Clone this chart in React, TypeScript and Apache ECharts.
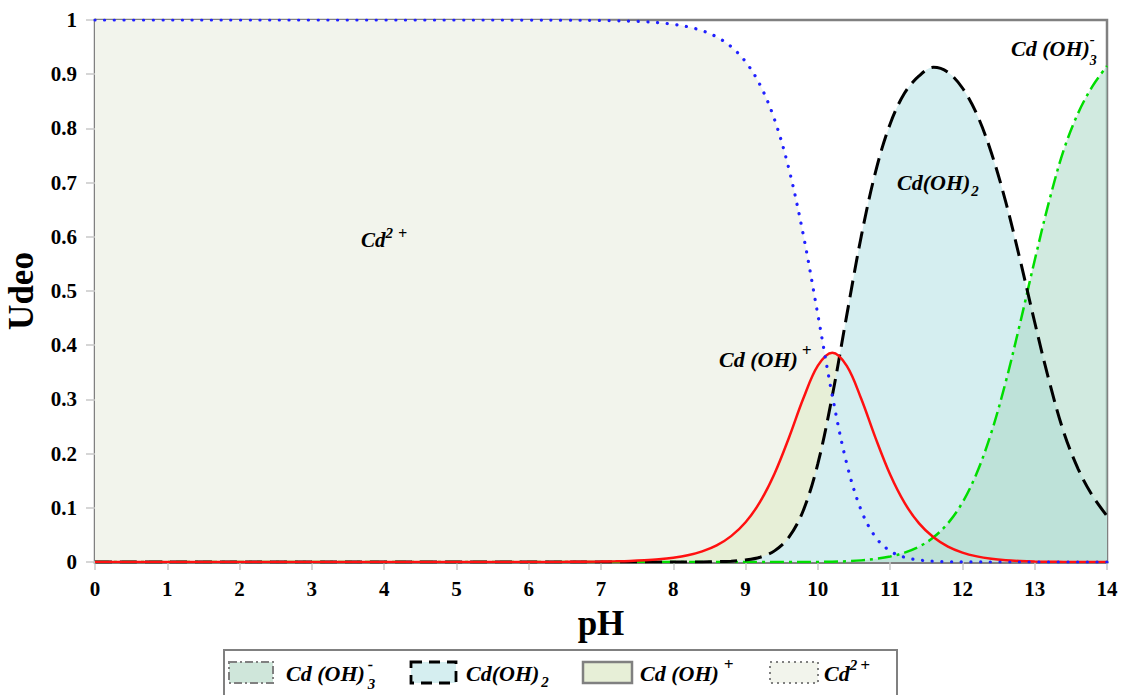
import React, { useEffect, useRef } from 'react';
import * as echarts from 'echarts';

const FONT = '"Liberation Serif", "Times New Roman", serif';

// pH values (x)
const PH = [0, 1, 2, 3, 4, 5, 6, 6.5, 7, 7.2, 7.4, 7.6, 7.8, 8, 8.2, 8.4, 8.6, 8.8, 9, 9.2, 9.4, 9.6, 9.8, 10, 10.2, 10.4, 10.6, 10.8, 11, 11.2, 11.4, 11.6, 11.8, 12, 12.2, 12.4, 12.6, 12.8, 13, 13.2, 13.4, 13.6, 13.8, 14];

// Cd2+ fraction
const CD2 = [1, 1, 1, 1, 1, 1, 0.9999, 0.9997, 0.9992, 0.9987, 0.998, 0.9968, 0.995, 0.9921, 0.9875, 0.9802, 0.9688, 0.9508, 0.923, 0.8804, 0.8166, 0.725, 0.6025, 0.456, 0.3067, 0.1813, 0.0952, 0.0455, 0.0203, 0.0087, 0.0036, 0.0014, 0.0006, 0.0002, 0.0001, 0, 0, 0, 0, 0, 0, 0, 0, 0];

// Cd(OH)+ fraction
const CDOH = [0, 0, 0, 0, 0, 0, 0.0001, 0.0003, 0.0008, 0.0013, 0.002, 0.0032, 0.005, 0.0079, 0.0124, 0.0196, 0.0306, 0.0477, 0.0733, 0.1108, 0.1629, 0.2293, 0.302, 0.3622, 0.3861, 0.3618, 0.3011, 0.228, 0.1613, 0.1089, 0.0712, 0.0455, 0.0284, 0.0174, 0.0104, 0.006, 0.0033, 0.0018, 0.0009, 0.0004, 0.0002, 0.0001, 0, 0];

// Cd(OH)2 fraction
const CDOH2 = [0, 0, 0, 0, 0, 0, 0, 0, 0, 0, 0, 0, 0, 0, 0.0001, 0.0002, 0.0006, 0.0015, 0.0037, 0.0088, 0.0205, 0.0457, 0.0955, 0.1815, 0.3067, 0.4555, 0.6007, 0.7208, 0.8083, 0.8652, 0.8968, 0.9126, 0.9035, 0.8745, 0.8259, 0.7552, 0.6639, 0.5563, 0.4423, 0.3337, 0.2402, 0.172, 0.122, 0.085];

// Cd(OH)3- fraction
const CDOH3 = [0, 0, 0, 0, 0, 0, 0, 0, 0, 0, 0, 0, 0, 0, 0, 0, 0, 0, 0, 0, 0, 0, 0.0001, 0.0002, 0.0006, 0.0014, 0.003, 0.0057, 0.0102, 0.0173, 0.0284, 0.0455, 0.0715, 0.1098, 0.1646, 0.2388, 0.3327, 0.4419, 0.5568, 0.6659, 0.7596, 0.828, 0.878, 0.915];

type Seg = { t: string; size: number; dy?: number; dx?: number; stay?: boolean };

let ctx: CanvasRenderingContext2D | null = null;
function measure(t: string, size: number): number {
  if (!ctx) ctx = document.createElement('canvas').getContext('2d');
  if (!ctx) return t.length * size * 0.5;
  ctx.font = `italic bold ${size}px ${FONT}`;
  return ctx.measureText(t).width;
}

function chem(x0: number, y: number, segs: Seg[]): any[] {
  let x = x0;
  const els: any[] = [];
  segs.forEach((s) => {
    const dx = s.dx || 0;
    els.push({
      type: 'text',
      x: x + dx,
      y: y + (s.dy || 0),
      silent: true,
      z: 100,
      style: {
        text: s.t,
        fontSize: s.size,
        fontFamily: FONT,
        fontWeight: 'bold',
        fontStyle: 'italic',
        fill: '#000',
        align: 'left',
        verticalAlign: 'middle',
      },
    });
    if (!s.stay) x += dx + measure(s.t, s.size);
  });
  return els;
}

const SPECIES = [
  { name: 'Cd2+', data: CD2, fill: '#f2f4ec', line: { color: '#2020ff', width: 3.2, type: [0.1, 9.6], cap: 'round' } },
  { name: 'Cd(OH)+', data: CDOH, fill: '#e7efd7', line: { color: '#ff1010', width: 2.5, type: 'solid' } },
  { name: 'Cd(OH)2', data: CDOH2, fill: '#d5eef0', line: { color: '#000000', width: 3, type: [17, 8] } },
  { name: 'Cd(OH)3-', data: CDOH3, fill: 'rgba(172,216,198,0.55)', line: { color: '#00dd00', width: 2.5, type: [14, 5, 3, 5] } },
];

export default function App() {
  const ref = useRef<HTMLDivElement>(null);
  useEffect(() => {
    const chart = echarts.init(ref.current!, null, { renderer: 'svg' });
    const SMOOTH = 0.35;
    const areaSeries = SPECIES.map((sp) => ({
      type: 'line',
      name: sp.name + ' area',
      data: PH.map((p, k) => [p, sp.data[k]]),
      showSymbol: false,
      smooth: SMOOTH,
      silent: true,
      z: 2,
      lineStyle: { width: 0, opacity: 0 },
      areaStyle: { color: sp.fill, opacity: 1 },
    }));
    const lineSeries = SPECIES.slice()
      .reverse()
      .map((sp, i) => ({
        type: 'line',
        name: sp.name,
        data: PH.map((p, k) => [p, sp.data[k]]),
        showSymbol: false,
        smooth: SMOOTH,
        silent: true,
        z: 3 + i,
        lineStyle: { color: sp.line.color, width: sp.line.width, type: sp.line.type, cap: (sp.line as any).cap || 'butt' },
      }));

    const legendY = 673;
    const legendItems: any[] = [
      { type: 'rect', shape: { x: 224, y: 650, width: 673, height: 60 }, style: { fill: '#fff', stroke: '#808080', lineWidth: 2 }, silent: true, z: 90 },
      { type: 'rect', shape: { x: 229, y: 662, width: 44, height: 21 }, style: { fill: '#cfe6da', stroke: '#808080', lineWidth: 2, lineDash: [8, 3, 2, 3] }, silent: true, z: 95 },
      { type: 'rect', shape: { x: 411, y: 662, width: 45, height: 21 }, style: { fill: '#d5eef0', stroke: '#000', lineWidth: 2.8, lineDash: [11, 7] }, silent: true, z: 95 },
      { type: 'rect', shape: { x: 583, y: 662, width: 49, height: 21 }, style: { fill: '#e7efd7', stroke: '#808080', lineWidth: 2.5 }, silent: true, z: 95 },
      { type: 'rect', shape: { x: 770, y: 662, width: 48, height: 21 }, style: { fill: '#f2f4ec', stroke: '#808080', lineWidth: 2, lineDash: [2, 4] }, silent: true, z: 95 },
      ...chem(286, legendY, [{ t: 'Cd (OH)', size: 22 }, { t: '3', size: 15, dy: 11, dx: 3, stay: true }, { t: '-', size: 16, dy: -9, dx: 3 }]),
      ...chem(466, legendY, [{ t: 'Cd(OH)', size: 22 }, { t: '2', size: 15, dy: 9, dx: 2 }]),
      ...chem(640, legendY, [{ t: 'Cd (OH)', size: 22 }, { t: '+', size: 17, dy: -9, dx: 5 }]),
      ...chem(824, legendY, [{ t: 'Cd', size: 22 }, { t: '2', size: 15, dy: -8 }, { t: '+', size: 17, dy: -8, dx: 3 }]),
    ];

    const annotations: any[] = [
      ...chem(361, 240, [{ t: 'Cd', size: 21 }, { t: '2', size: 15, dy: -7 }, { t: '+', size: 16, dy: -7, dx: 5 }]),
      ...chem(719, 359, [{ t: 'Cd (OH)', size: 22 }, { t: '+', size: 17, dy: -9, dx: 4 }]),
      ...chem(897, 182, [{ t: 'Cd(OH)', size: 22 }, { t: '2', size: 15, dy: 9, dx: 1 }]),
      ...chem(1011, 48, [{ t: 'Cd (OH)', size: 22 }, { t: '3', size: 14, dy: 12, dx: 0, stay: true }, { t: '-', size: 15, dy: -9 }]),
    ];

    const axisNameStyle = { fontFamily: FONT, fontWeight: 'bold', fontSize: 35, color: '#000' };
    const axisLabelStyle = { fontFamily: FONT, fontWeight: 'bold', fontSize: 21, color: '#000' };

    chart.setOption({
      animation: false,
      backgroundColor: '#fff',
      grid: { left: 95, right: 14, top: 20, bottom: 133, show: true, borderColor: '#808080', borderWidth: 2.5, backgroundColor: 'transparent', outerBoundsMode: 'none', containLabel: false },
      xAxis: {
        type: 'value',
        min: 0,
        max: 14,
        interval: 1,
        name: 'pH',
        nameLocation: 'middle',
        nameGap: 44,
        nameTextStyle: axisNameStyle,
        axisLine: { show: true, onZero: false, lineStyle: { color: '#808080', width: 3 } },
        axisTick: { show: true, length: 8, lineStyle: { color: '#c8c8c8', width: 1.5 } },
        axisLabel: { ...axisLabelStyle, margin: 16 },
        splitLine: { show: false },
      },
      yAxis: {
        type: 'value',
        min: 0,
        max: 1,
        interval: 0.1,
        name: 'Udeo',
        nameLocation: 'middle',
        nameGap: 56,
        nameTextStyle: axisNameStyle,
        axisLine: { show: true, onZero: false, lineStyle: { color: '#808080', width: 3 } },
        axisTick: { show: true, length: 9, lineStyle: { color: '#c8c8c8', width: 1.5 } },
        axisLabel: { ...axisLabelStyle, margin: 18, formatter: (v: number) => String(Math.round(v * 10) / 10) },
        splitLine: { show: false },
      },
      series: [...areaSeries, ...lineSeries],
      graphic: [...annotations, ...legendItems],
    });
    return () => chart.dispose();
  }, []);
  return <div ref={ref} style={{ position: 'absolute', left: 0, top: 0, width: 1121, height: 695, background: '#fff' }} />;
}
